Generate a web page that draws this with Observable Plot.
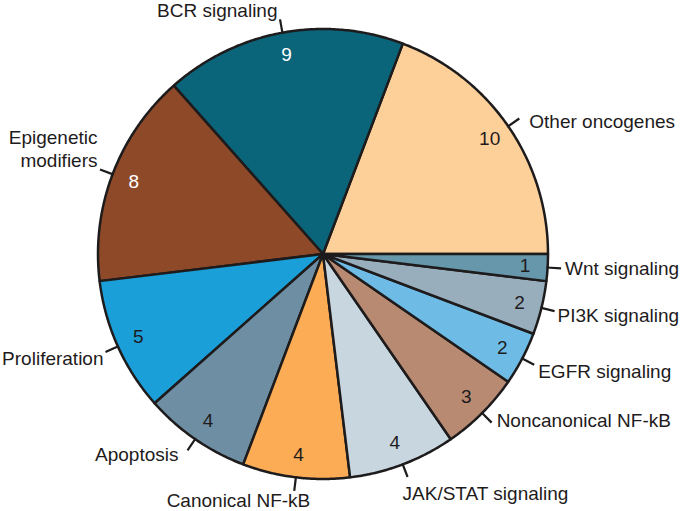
<!DOCTYPE html>
<html><head><meta charset="utf-8">
<script src="https://cdn.jsdelivr.net/npm/d3@7"></script>
<script src="https://cdn.jsdelivr.net/npm/@observablehq/plot@0.6"></script>
<style>html,body{margin:0;padding:0;background:#fff}</style>
</head><body><div id="chart"></div>
<script>
// ---- data ----
const categories = ["Other oncogenes","BCR signaling","Epigenetic modifiers","Proliferation","Apoptosis","Canonical NF-kB","JAK/STAT signaling","Noncanonical NF-kB","EGFR signaling","PI3K signaling","Wnt signaling"];
const counts = [10, 9, 8, 5, 4, 4, 4, 3, 2, 2, 1];
const labelTexts = ["Other oncogenes","BCR signaling","Epigenetic\nmodifiers","Proliferation","Apoptosis","Canonical NF-kB","JAK/STAT signaling","Noncanonical NF-kB","EGFR signaling","PI3K signaling","Wnt signaling"];

// ---- styles ----
const sliceColors = ["#fdd09a","#0b657a","#8e4a28","#1a9fd9","#6e8fa3","#fbac55","#c8d6df","#b88a72","#6ebce6","#98aebd","#6797aa"];
const whiteValueCats = ["BCR signaling","Epigenetic modifiers"];
const labelLayout = [
  {anchor:"start", dx:10, dy:2},
  {anchor:"end", dx:-2.5, dy:-10},
  {anchor:"end", dx:-2.5, dy:-21},
  {anchor:"end", dx:-2, dy:6},
  {anchor:"end", dx:-9, dy:3},
  {anchor:"end", dx:16, dy:9},
  {anchor:"start", dx:-5, dy:16},
  {anchor:"start", dx:5, dy:-3},
  {anchor:"start", dx:4, dy:6},
  {anchor:"start", dx:3, dy:4},
  {anchor:"start", dx:4, dy:-1}
];
const ink = "#1e1b1c";
const W = 683, H = 511, CX = 322.5, CY = 253.5, R = 225;
const FONT = "'Liberation Sans', Arial, Helvetica, sans-serif";

const data = categories.map((c, i) => ({cat: c, count: counts[i], label: labelTexts[i], layout: labelLayout[i]}));
const arcs = d3.pie().sort(null).value(d => d.count)(data);
arcs.forEach(a => { a.data.a0 = a.startAngle; a.data.a1 = a.endAngle; a.data.mid = (a.startAngle + a.endAngle) / 2; });

// slice outlines (center + arc points) derived from pie angles
const slicePts = [];
for (const d of data) {
  slicePts.push({cat: d.cat, x: 0, y: 0});
  const n = Math.max(2, Math.ceil((d.a1 - d.a0) / (Math.PI / 360)));
  for (let k = 0; k <= n; k++) {
    const t = d.a0 + (d.a1 - d.a0) * k / n;
    slicePts.push({cat: d.cat, x: Math.cos(t), y: Math.sin(t)});
  }
}

const rTick0 = 0.995, rTick1 = 1.06, rVal = 0.9;

const labelMarks = data.map(d => Plot.text([d], {
  x: d => rTick1 * Math.cos(d.mid), y: d => rTick1 * Math.sin(d.mid),
  text: "label", textAnchor: d.layout.anchor, dx: d.layout.dx, dy: d.layout.dy,
  fill: ink, fontSize: 19, lineHeight: 1.2, fontFamily: FONT
}));

const chart = Plot.plot({
  width: W, height: H,
  margin: 0,
  x: {domain: [-CX / R, (W - CX) / R], axis: null},
  y: {domain: [-(H - CY) / R, CY / R], axis: null},
  color: {domain: categories, range: sliceColors},
  style: {fontFamily: FONT, background: "#fff"},
  marks: [
    Plot.line(slicePts, {x: "x", y: "y", z: "cat", fill: "cat", stroke: ink, strokeWidth: 2.5, curve: "linear-closed", strokeLinejoin: "round"}),
    Plot.link(data, {
      x1: d => rTick0 * Math.cos(d.mid), y1: d => rTick0 * Math.sin(d.mid),
      x2: d => rTick1 * Math.cos(d.mid), y2: d => rTick1 * Math.sin(d.mid),
      stroke: ink, strokeWidth: 2.2
    }),
    Plot.text(data, {
      x: d => rVal * Math.cos(d.mid), y: d => rVal * Math.sin(d.mid),
      text: d => String(d.count),
      fill: d => whiteValueCats.includes(d.cat) ? "white" : ink,
      fontSize: 19, fontFamily: FONT
    }),
    ...labelMarks
  ]
});
document.getElementById("chart").appendChild(chart);
</script>
</body></html>
